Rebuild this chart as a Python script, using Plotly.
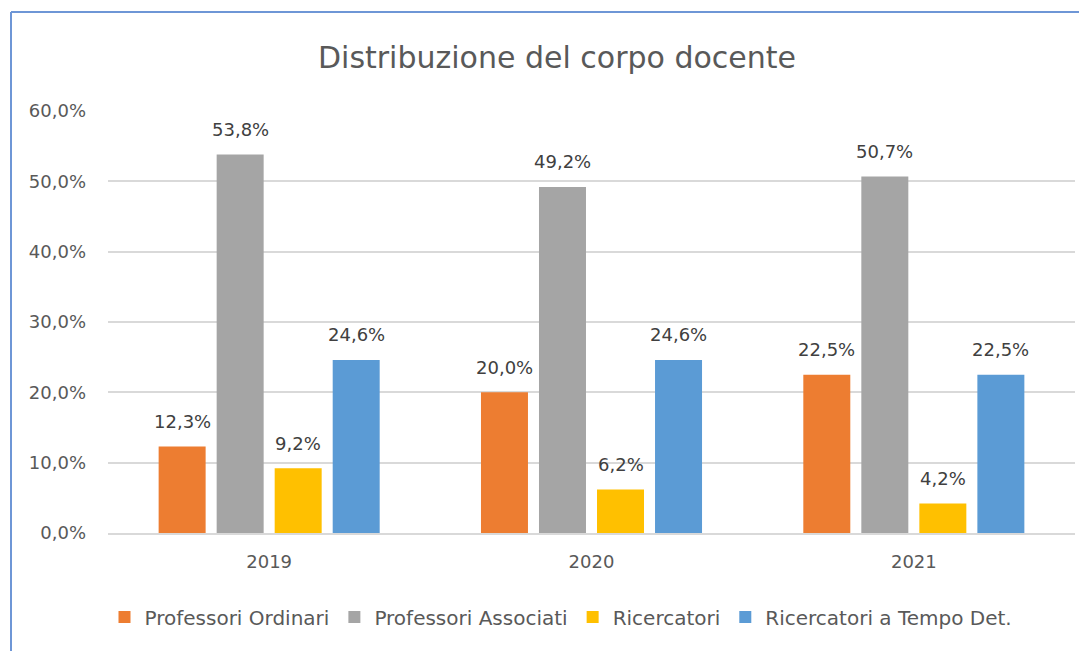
import plotly.graph_objects as go

years = ["2019", "2020", "2021"]
series_names = ["Professori Ordinari", "Professori Associati", "Ricercatori", "Ricercatori a Tempo Det."]
ordinari = [0.123, 0.200, 0.225]
associati = [0.538, 0.492, 0.507]
ricercatori = [0.092, 0.062, 0.042]
tempo_det = [0.246, 0.246, 0.225]
colors = ["#ED7D31", "#A5A5A5", "#FFC000", "#5B9BD5"]
y_ticks = [0, 0.1, 0.2, 0.3, 0.4, 0.5, 0.6]

# page body adds an 8px offset; figure sized to fill the rest of the window
W, H = 1079, 643
L, R, T, B = 100, 12, 103, 118
FONT = "DejaVu Sans"
BARGAP, BARGROUPGAP = 0.28, 0.19

all_series = [ordinari, associati, ricercatori, tempo_det]
fig = go.Figure()
for name, vals, col in zip(series_names, all_series, colors):
    fig.add_trace(go.Bar(
        x=years, y=vals, name=name, marker=dict(color=col, line=dict(width=0)),
        hoverinfo="x+y+name",
    ))

pw = W - L - R
ph = H - T - B
n = len(all_series)
slot_px = pw / len(years) * (1 - BARGAP) / n
annotations = []
for i, vals in enumerate(all_series):
    for k, v in enumerate(vals):
        annotations.append(dict(
            x=k, y=v, xref="x", yref="y", text=f"{v * 100:.1f}%".replace(".", ","),
            showarrow=False, xanchor="center", yanchor="middle",
            xshift=(i - (n - 1) / 2) * slot_px, yshift=25,
            font=dict(family=FONT, size=18, color="#404040"),
        ))

fig.update_layout(
    width=W, height=H,
    margin=dict(l=L, r=R, t=T, b=B, autoexpand=False),
    paper_bgcolor="white", plot_bgcolor="white",
    separators=",.",
    barmode="group", bargap=BARGAP, bargroupgap=BARGROUPGAP,
    title=dict(text="Distribuzione del corpo docente", x=(557 - 8) / W, xanchor="center",
               y=1 - 49 / H, yanchor="middle",
               font=dict(family=FONT, size=30, color="#595959")),
    font=dict(family=FONT, color="#595959"),
    legend=dict(orientation="h", x=(561 - 8 - L) / pw, xanchor="center",
                y=-(609 - (H - B)) / ph, yanchor="middle",
                font=dict(family=FONT, size=20, color="#595959"), itemwidth=30,
                traceorder="normal"),
    xaxis=dict(type="category", range=[-0.5, len(years) - 0.5], autorange=False,
               showgrid=False, showline=True, linecolor="#D9D9D9", linewidth=1.5,
               ticks="", ticklabelstandoff=12,
               tickfont=dict(family=FONT, size=18, color="#595959")),
    yaxis=dict(range=[0, 0.6], autorange=False, tickvals=y_ticks, tickformat=".1%",
               showgrid=True, gridcolor="#D9D9D9", gridwidth=1.5, zeroline=False,
               ticklabelstandoff=21,
               tickfont=dict(family=FONT, size=18, color="#595959")),
    annotations=annotations,
    shapes=[
        dict(type="line", xref="paper", yref="paper",
             x0=(3 - L) / pw, x1=(3 - L) / pw, y0=-(H - T) / ph, y1=(T - 4) / ph + 1,
             line=dict(color="#6E96D6", width=2)),
        dict(type="line", xref="paper", yref="paper",
             x0=(3 - L) / pw, x1=(W - L) / pw, y0=(T - 4) / ph + 1, y1=(T - 4) / ph + 1,
             line=dict(color="#6E96D6", width=2)),
    ],
)

fig.write_html("out.html")
